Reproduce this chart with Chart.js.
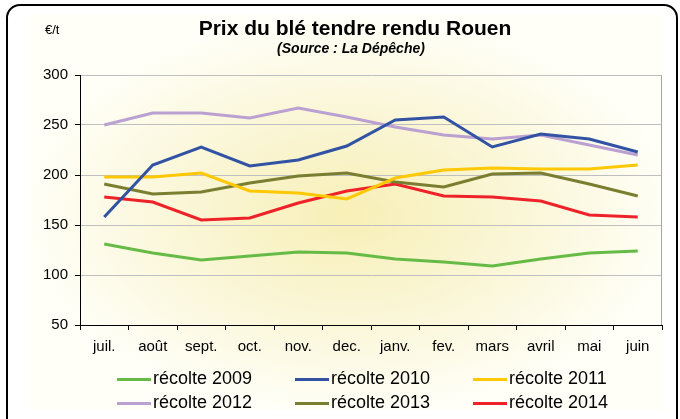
<!DOCTYPE html>
<html>
<head>
<meta charset="utf-8">
<script src="https://cdn.jsdelivr.net/npm/chart.js@4.4.1/dist/chart.umd.min.js"></script>
<style>
  body { margin: 0; background: #fff; }
  #wrap { position: relative; width: 680px; height: 419px; overflow: hidden; font-family: "Liberation Sans", Arial, sans-serif; color: #000; }
  #wrap canvas { position: absolute; left: 0; top: 0; }
  #frame { position: absolute; left: 6px; top: 4px; width: 668px; height: 430px; border: 2px solid #000; border-radius: 14px; pointer-events: none; }
  .title { position: absolute; left: 0; width: 710px; top: 17px; text-align: center; font-size: 21px; line-height: 21px; font-weight: bold; }
  .subtitle { position: absolute; left: 0; width: 702px; top: 41px; text-align: center; font-size: 14px; line-height: 14px; font-weight: bold; font-style: italic; }
  .unit { position: absolute; left: 45px; top: 23px; font-size: 13px; line-height: 13px; }
  .leg { position: absolute; font-size: 18px; line-height: 18px; white-space: nowrap; }
  .leg i { position: absolute; left: 0; width: 34px; height: 3px; }
  .leg span { position: absolute; left: 36px; top: 0; }
</style>
</head>
<body>
<div id="wrap">
  <canvas id="chart" width="680" height="419"></canvas>
  <div id="frame"></div>
  <div class="title">Prix du blé tendre rendu Rouen</div>
  <div class="subtitle">(Source : La Dépêche)</div>
  <div class="unit">€/t</div>
  <div id="legend"></div>
</div>
<script>
// months of the marketing year
const months = ['juil.', 'août', 'sept.', 'oct.', 'nov.', 'dec.', 'janv.', 'fev.', 'mars', 'avril', 'mai', 'juin'];

// price in €/t, one list per harvest
const recolte2009 = [131, 122, 115, 119, 123, 122, 116, 113, 109, 116, 122, 124];
const recolte2010 = [158, 210, 228, 209, 215, 229, 255, 258, 228, 241, 236, 223];
const recolte2011 = [198, 198, 202, 184, 182, 176, 197, 205, 207, 206, 206, 210];
const recolte2012 = [250, 262, 262, 257, 267, 258, 248, 240, 236, 240, 230, 220];
const recolte2013 = [191, 181, 183, 192, 199, 202, 193, 188, 201, 202, 191, 179];
const recolte2014 = [178, 173, 155, 157, 172, 184, 191, 179, 178, 174, 160, 158];

const seriesNames = ['récolte 2009', 'récolte 2010', 'récolte 2011', 'récolte 2012', 'récolte 2013', 'récolte 2014'];
const seriesColors = ['#66BB46', '#3253A4', '#FFC805', '#BBA0D2', '#7A7E30', '#EE2229'];
const seriesData = [recolte2009, recolte2010, recolte2011, recolte2012, recolte2013, recolte2014];

const yTicks = [50, 100, 150, 200, 250, 300];

Chart.defaults.font.family = "'Liberation Sans', Arial, sans-serif";
Chart.defaults.color = '#000';

// soft cream glow behind the chart, like the excel "from center" fill
const glow = {
  id: 'glow',
  beforeDraw(chart) {
    const ctx = chart.ctx;
    const cx = 350, cy = 215, rx = 330, ry = 200;
    ctx.save();
    ctx.beginPath();
    ctx.rect(30, 15, 633, 395);
    ctx.clip();
    ctx.translate(cx, cy);
    ctx.scale(1, ry / rx);
    const g = ctx.createRadialGradient(0, 0, 0, 0, 0, rx);
    g.addColorStop(0, '#F8EFB6');
    g.addColorStop(0.5, '#FAF6D6');
    g.addColorStop(1, '#FFFFF8');
    ctx.fillStyle = g;
    ctx.fillRect(-rx * 2, -rx * 2, rx * 4, rx * 4);
    ctx.restore();
  }
};

// grey edge on the right of the plot area
const plotEdge = {
  id: 'plotEdge',
  beforeDatasetsDraw(chart) {
    const { ctx, chartArea: a } = chart;
    ctx.save();
    ctx.strokeStyle = '#A6A6A6';
    ctx.lineWidth = 1;
    ctx.beginPath();
    ctx.moveTo(Math.round(a.right) - 0.5, a.top);
    ctx.lineTo(Math.round(a.right) - 0.5, a.bottom);
    ctx.stroke();
    ctx.restore();
  }
};

const chart = new Chart(document.getElementById('chart'), {
  type: 'line',
  data: {
    labels: months,
    datasets: seriesData.map((d, i) => ({
      label: seriesNames[i],
      data: d,
      borderColor: seriesColors[i],
      backgroundColor: seriesColors[i],
      borderWidth: 3,
      pointRadius: 0,
      tension: 0,
      fill: false
    }))
  },
  options: {
    responsive: false,
    animation: false,
    events: [],
    layout: { padding: { top: 75, right: 18, left: 0, bottom: 0 } },
    plugins: {
      legend: { display: false },
      title: { display: false },
      tooltip: { enabled: false }
    },
    scales: {
      x: {
        offset: true,
        grid: { offset: true, drawOnChartArea: false, drawTicks: true, tickLength: 5, color: '#000', tickColor: '#000' },
        border: { color: '#000', width: 1 },
        ticks: { font: { size: 15 }, padding: 8, maxRotation: 0, autoSkip: false },
        afterFit(s) { s.height = 94; }
      },
      y: {
        min: yTicks[0],
        max: yTicks[yTicks.length - 1],
        afterBuildTicks(s) { s.ticks = yTicks.map(v => ({ value: v })); },
        grid: { color: '#BFBFBF', tickColor: '#000', tickLength: 5 },
        border: { color: '#000', width: 1 },
        ticks: { font: { size: 15 }, padding: 7 },
        afterFit(s) { s.width = 80; }
      }
    }
  },
  plugins: [glow, plotEdge]
});

// legend: three columns, two rows
const legendEl = document.getElementById('legend');
const colX = [117, 295, 473];
const rowY = [369, 393];
chart.data.datasets.forEach((ds, i) => {
  const item = document.createElement('div');
  item.className = 'leg';
  item.style.left = colX[i % 3] + 'px';
  item.style.top = rowY[Math.floor(i / 3)] + 'px';
  const line = document.createElement('i');
  line.style.background = ds.borderColor;
  line.style.top = '9px';
  const txt = document.createElement('span');
  txt.textContent = ds.label;
  item.appendChild(line);
  item.appendChild(txt);
  legendEl.appendChild(item);
});
</script>
</body>
</html>
